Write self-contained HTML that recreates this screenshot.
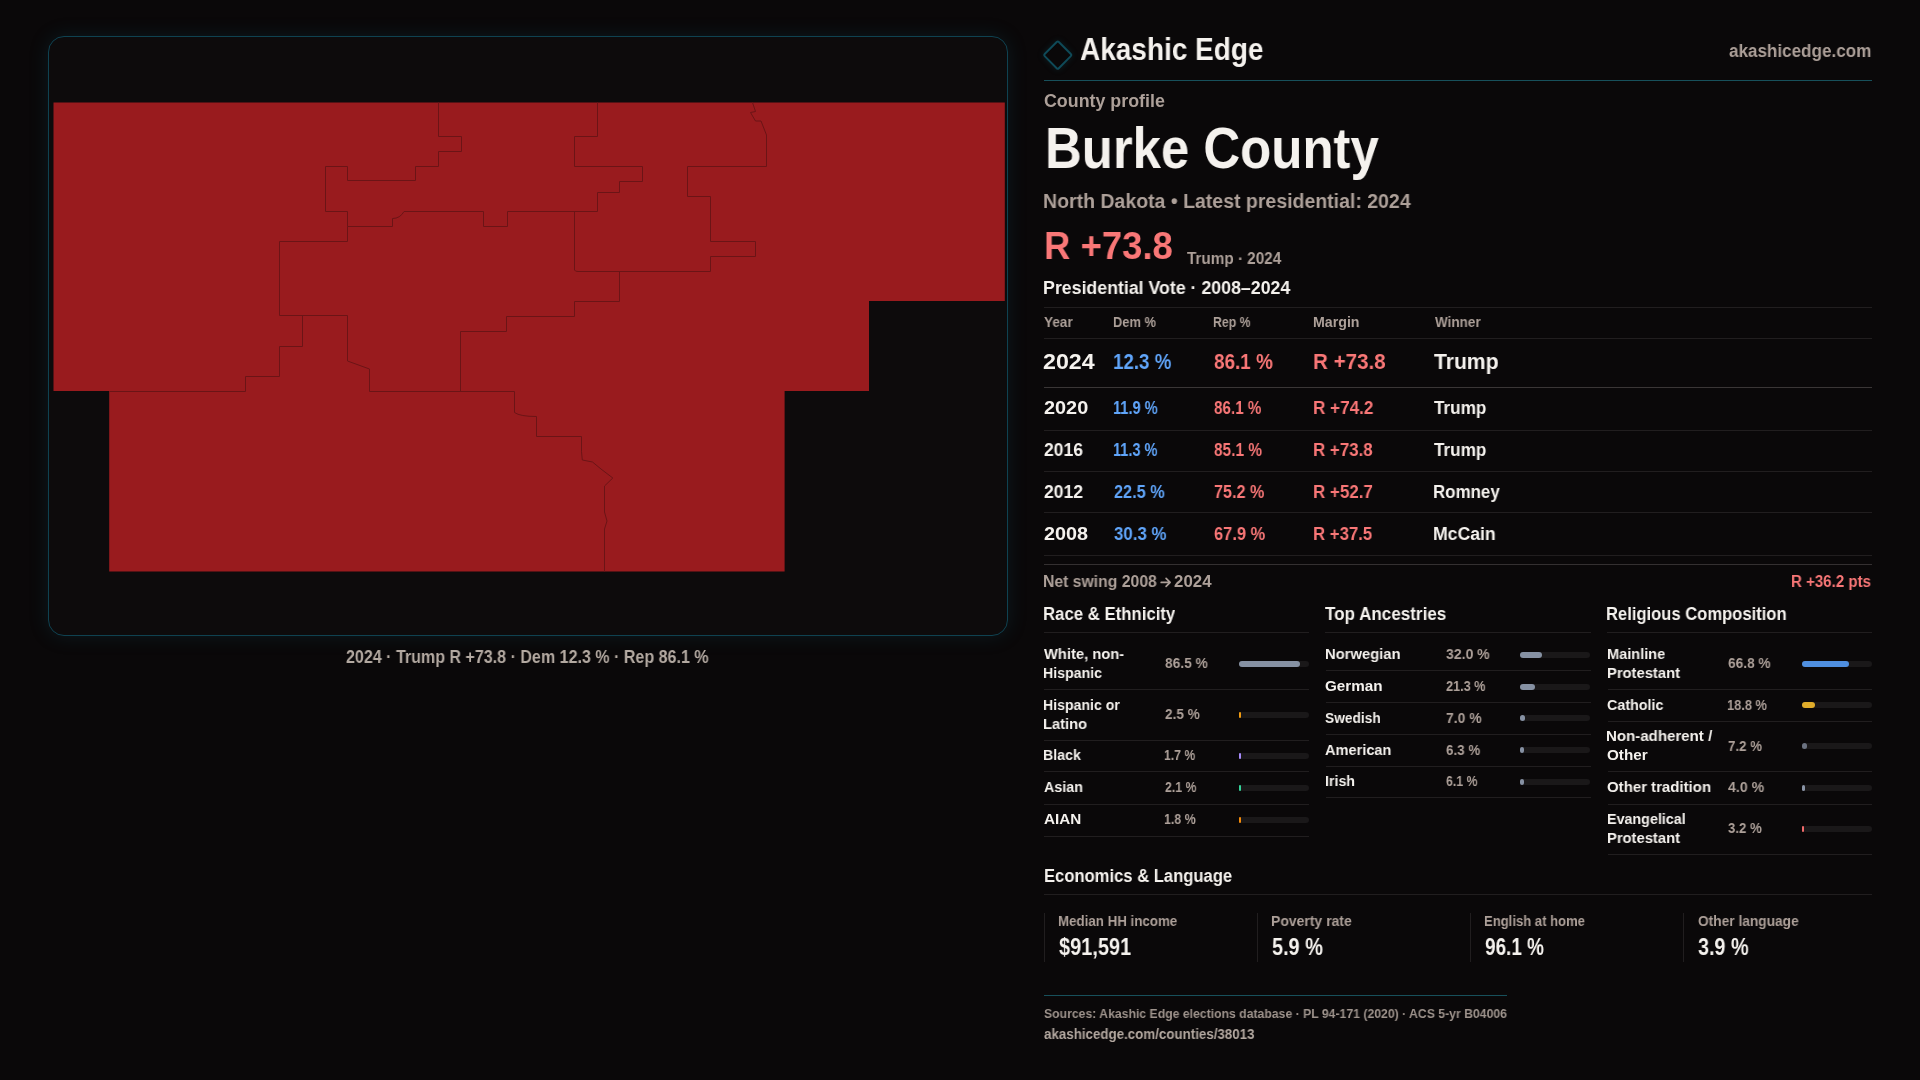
<!DOCTYPE html>
<html><head><meta charset="utf-8"><style>
html,body{margin:0;padding:0;}
body{width:1920px;height:1080px;overflow:hidden;background:#0a0809;position:relative;font-family:"Liberation Sans",sans-serif;font-weight:700;}
.t{position:absolute;white-space:nowrap;line-height:1;transform-origin:0 0;will-change:transform;}
.ln{position:absolute;}
.bar{position:absolute;background:#1a1819;border-radius:3px;}
.bar i{position:absolute;left:0;top:0;bottom:0;border-radius:3px;}
.panel{position:absolute;left:48px;top:36px;width:958px;height:598px;border:1px solid #0f4251;border-radius:16px;background:#0d0b0c;box-shadow:0 0 20px rgba(18,95,115,0.20);}
.map{position:absolute;left:0;top:0;}
.logo{position:absolute;left:1047.05px;top:44.45px;width:17.5px;height:17.5px;border:2px solid #0f4a58;border-radius:2.5px;transform:rotate(45deg);box-shadow:0 0 6px rgba(20,90,105,0.25);}
</style></head><body>
<div class="panel"></div>
<svg class="map" width="1920" height="1080" viewBox="0 0 1920 1080">
<path d="M53.5,102.5 H1004.8 V301 H869 V391 H784.6 V571.6 H109.2 V391 H53.5 Z" fill="#991b1e"/>
<g fill="none" stroke="#6b1416" stroke-width="1">
<path d="M438.5,102.5 V136.5 H461.5 V151.5 H438.5 V166.5 H415.5 V180.5 H347.5 V166.5 H325.5 V211.5 H347.5 V226.5 H392.5 V218.5 Q400,218.5 404,211.5 H483.5 V226.5 H507.5 V211.5 H597.5 V192.5 H619.5 V181.5 H642.5 V166.5 H574.5 V136.5 H597.5 V102.5"/>
<path d="M574.5,211.5 V270 Q575,271.5 578,271.5 H710.5 V256.5 H755.5 V241.5 H710.5 V196.5 H687.5 V166.5 H766.5 V135 L761,121 H755.5 L750.5,112.5 L755.5,111.5 L752.5,102.5"/>
<path d="M619.5,271.5 V301.5 H574.5 V316.5 H506.5 V331.5 H460.5 V391.5"/>
<path d="M347.5,226.5 V241.5 H279.5 V315.5 H347.5 V361 L369.5,369 V391.5 H514.5 V412.5 Q520,416.5 536.5,416.5 V436.5 H581.5 V451.7 L582.3,460 L592.5,462 L601,469 L612.8,478 L604.5,486 V512 L607,521 L604.5,529 V571.5"/>
<path d="M302.5,315.5 V346.5 H279.5 V376.5 H245.5 V391.5"/>
<path d="M109.5,391.5 H245.5"/>
</g></svg>
<div class="logo"></div>
<div class="t" style="left:1080.30px;top:35px;font-size:30.72px;color:#f5f2ee;transform:scaleX(0.9113);">Akashic Edge</div>
<div class="t" style="left:1728.69px;top:42px;font-size:18.26px;color:#ada099;transform:scaleX(0.9352);">akashicedge.com</div>
<div class="ln" style="left:1044px;top:80px;width:828px;height:1px;background:#17505b"></div>
<div class="t" style="left:1043.99px;top:93px;font-size:17.83px;color:#ada099;">County profile</div>
<div class="t" style="left:1044.56px;top:120px;font-size:57.54px;color:#f5f2ee;transform:scaleX(0.8848);">Burke County</div>
<div class="t" style="left:1043.28px;top:191px;font-size:20.29px;color:#ada099;transform:scaleX(0.9614);">North Dakota • Latest presidential: 2024</div>
<div class="t" style="left:1044.24px;top:226px;font-size:39.13px;color:#f97777;transform:scaleX(0.9329);">R +73.8</div>
<div class="t" style="left:1186.85px;top:251px;font-size:15.94px;color:#ada099;transform:scaleX(0.9584);">Trump · 2024</div>
<div class="t" style="left:1043.40px;top:280px;font-size:17.83px;color:#f5f2ee;transform:scaleX(0.9953);">Presidential Vote · 2008–2024</div>
<div class="ln" style="left:1044px;top:307px;width:828px;height:1px;background:#211e1f"></div>
<div class="t" style="left:1044.06px;top:315px;font-size:14.20px;color:#ada099;transform:scaleX(0.9568);">Year</div>
<div class="t" style="left:1113.43px;top:315px;font-size:14.20px;color:#ada099;transform:scaleX(0.9062);">Dem %</div>
<div class="t" style="left:1213.47px;top:315px;font-size:14.20px;color:#ada099;transform:scaleX(0.8651);">Rep %</div>
<div class="t" style="left:1313.34px;top:315px;font-size:14.20px;color:#ada099;">Margin</div>
<div class="t" style="left:1434.50px;top:315px;font-size:14.20px;color:#ada099;transform:scaleX(0.9520);">Winner</div>
<div class="ln" style="left:1044px;top:338px;width:828px;height:1px;background:#211e1f"></div>
<div class="t" style="left:1043.49px;top:350px;font-size:22.90px;color:#f5f2ee;transform:scaleX(1.0145);">2024</div>
<div class="t" style="left:1113.13px;top:350px;font-size:22.90px;color:#60a5fa;transform:scaleX(0.8186);">12.3 %</div>
<div class="t" style="left:1213.69px;top:350px;font-size:22.90px;color:#f97777;transform:scaleX(0.8248);">86.1 %</div>
<div class="t" style="left:1312.91px;top:350px;font-size:22.90px;color:#f97777;transform:scaleX(0.8995);">R +73.8</div>
<div class="t" style="left:1434.29px;top:350px;font-size:22.90px;color:#f5f2ee;transform:scaleX(0.9228);">Trump</div>
<div class="ln" style="left:1044px;top:387px;width:828px;height:1px;background:#3a3636"></div>
<div class="t" style="left:1043.60px;top:399px;font-size:18.12px;color:#f5f2ee;transform:scaleX(1.0976);">2020</div>
<div class="t" style="left:1113.39px;top:399px;font-size:18.12px;color:#60a5fa;transform:scaleX(0.8066);">11.9 %</div>
<div class="t" style="left:1213.81px;top:399px;font-size:18.12px;color:#f97777;transform:scaleX(0.8402);">86.1 %</div>
<div class="t" style="left:1313.14px;top:399px;font-size:18.12px;color:#f97777;transform:scaleX(0.9461);">R +74.2</div>
<div class="t" style="left:1434.33px;top:399px;font-size:18.12px;color:#f5f2ee;transform:scaleX(0.9460);">Trump</div>
<div class="ln" style="left:1044px;top:430px;width:828px;height:1px;background:#211e1f"></div>
<div class="t" style="left:1043.69px;top:441px;font-size:18.12px;color:#f5f2ee;transform:scaleX(0.9668);">2016</div>
<div class="t" style="left:1113.39px;top:441px;font-size:18.12px;color:#60a5fa;transform:scaleX(0.8029);">11.3 %</div>
<div class="t" style="left:1213.80px;top:441px;font-size:18.12px;color:#f97777;transform:scaleX(0.8510);">85.1 %</div>
<div class="t" style="left:1313.16px;top:441px;font-size:18.12px;color:#f97777;transform:scaleX(0.9343);">R +73.8</div>
<div class="t" style="left:1434.33px;top:441px;font-size:18.12px;color:#f5f2ee;transform:scaleX(0.9460);">Trump</div>
<div class="ln" style="left:1044px;top:471px;width:828px;height:1px;background:#211e1f"></div>
<div class="t" style="left:1043.69px;top:483px;font-size:18.12px;color:#f5f2ee;transform:scaleX(0.9679);">2012</div>
<div class="t" style="left:1113.73px;top:483px;font-size:18.12px;color:#60a5fa;transform:scaleX(0.8988);">22.5 %</div>
<div class="t" style="left:1213.61px;top:483px;font-size:18.12px;color:#f97777;transform:scaleX(0.8937);">75.2 %</div>
<div class="t" style="left:1313.15px;top:483px;font-size:18.12px;color:#f97777;transform:scaleX(0.9378);">R +52.7</div>
<div class="t" style="left:1433.36px;top:483px;font-size:18.12px;color:#f5f2ee;transform:scaleX(0.9337);">Romney</div>
<div class="ln" style="left:1044px;top:512px;width:828px;height:1px;background:#211e1f"></div>
<div class="t" style="left:1043.61px;top:525px;font-size:18.12px;color:#f5f2ee;transform:scaleX(1.0925);">2008</div>
<div class="t" style="left:1113.92px;top:525px;font-size:18.12px;color:#60a5fa;transform:scaleX(0.9311);">30.3 %</div>
<div class="t" style="left:1213.68px;top:525px;font-size:18.12px;color:#f97777;transform:scaleX(0.9085);">67.9 %</div>
<div class="t" style="left:1313.17px;top:525px;font-size:18.12px;color:#f97777;transform:scaleX(0.9272);">R +37.5</div>
<div class="t" style="left:1433.31px;top:525px;font-size:18.12px;color:#f5f2ee;transform:scaleX(0.9744);">McCain</div>
<div class="ln" style="left:1044px;top:555px;width:828px;height:1px;background:#211e1f"></div>
<div class="ln" style="left:1044px;top:564px;width:828px;height:1px;background:#343031"></div>
<div class="t" style="left:1043.34px;top:574px;font-size:15.94px;color:#ada099;transform:scaleX(0.9883);">Net swing 2008</div>
<svg style="position:absolute;left:1158px;top:575px" width="16" height="14" viewBox="0 0 16 14"><path d="M3.2,7.4 H12 M8.1,3.4 L12.1,7.4 L8.1,11.4" fill="none" stroke="#ada099" stroke-width="1.7" stroke-linecap="round" stroke-linejoin="round"/></svg>
<div class="t" style="left:1173.61px;top:574px;font-size:15.94px;color:#ada099;transform:scaleX(1.0577);">2024</div>
<div class="t" style="left:1791.38px;top:574px;font-size:15.94px;color:#f97777;transform:scaleX(0.9445);">R +36.2 pts</div>
<div class="t" style="left:1043.27px;top:605px;font-size:18.12px;color:#f5f2ee;transform:scaleX(0.9257);">Race &amp; Ethnicity</div>
<div class="t" style="left:1325.43px;top:605px;font-size:18.12px;color:#f5f2ee;transform:scaleX(0.9410);">Top Ancestries</div>
<div class="t" style="left:1606.38px;top:605px;font-size:18.12px;color:#f5f2ee;transform:scaleX(0.9157);">Religious Composition</div>
<div class="ln" style="left:1044px;top:632px;width:265px;height:1px;background:#211e1f"></div>
<div class="ln" style="left:1325px;top:632px;width:266px;height:1px;background:#211e1f"></div>
<div class="ln" style="left:1607px;top:632px;width:265px;height:1px;background:#211e1f"></div>
<div class="t" style="left:1044.40px;top:646px;font-size:15.22px;color:#f5f2ee;transform:scaleX(0.9670);">White, non-</div>
<div class="t" style="left:1043.45px;top:665px;font-size:15.22px;color:#f5f2ee;transform:scaleX(0.9294);">Hispanic</div>
<div class="t" style="left:1164.55px;top:655px;font-size:15.22px;color:#ada099;transform:scaleX(0.9034);">86.5 %</div>
<div class="bar" style="left:1239px;top:660.95px;width:70px;height:6px"><i style="width:60.55px;background:#8691a3"></i></div>
<div class="ln" style="left:1044.4px;top:689px;width:264.5999999999999px;height:1px;background:#211e1f"></div>
<div class="t" style="left:1043.45px;top:697px;font-size:15.22px;color:#f5f2ee;transform:scaleX(0.9260);">Hispanic or</div>
<div class="t" style="left:1043.41px;top:716px;font-size:15.22px;color:#f5f2ee;transform:scaleX(0.9670);">Latino</div>
<div class="t" style="left:1164.53px;top:706px;font-size:15.22px;color:#ada099;transform:scaleX(0.8889);">2.5 %</div>
<div class="bar" style="left:1239px;top:711.95px;width:70px;height:6px"><i style="width:2.20px;background:#ef9a12"></i></div>
<div class="ln" style="left:1044.4px;top:740px;width:264.5999999999999px;height:1px;background:#211e1f"></div>
<div class="t" style="left:1043.44px;top:747px;font-size:15.22px;color:#f5f2ee;transform:scaleX(0.9305);">Black</div>
<div class="t" style="left:1164.24px;top:747px;font-size:15.22px;color:#ada099;transform:scaleX(0.7990);">1.7 %</div>
<div class="bar" style="left:1239px;top:752.95px;width:70px;height:6px"><i style="width:2.20px;background:#a78bfa"></i></div>
<div class="ln" style="left:1044.4px;top:771px;width:264.5999999999999px;height:1px;background:#211e1f"></div>
<div class="t" style="left:1044.04px;top:779px;font-size:15.22px;color:#f5f2ee;transform:scaleX(0.9368);">Asian</div>
<div class="t" style="left:1164.57px;top:779px;font-size:15.22px;color:#ada099;transform:scaleX(0.8033);">2.1 %</div>
<div class="bar" style="left:1239px;top:784.80px;width:70px;height:6px"><i style="width:2.20px;background:#34d399"></i></div>
<div class="ln" style="left:1044.4px;top:804px;width:264.5999999999999px;height:1px;background:#211e1f"></div>
<div class="t" style="left:1044.02px;top:811px;font-size:15.22px;color:#f5f2ee;transform:scaleX(0.9944);">AIAN</div>
<div class="t" style="left:1164.23px;top:811px;font-size:15.22px;color:#ada099;transform:scaleX(0.8123);">1.8 %</div>
<div class="bar" style="left:1239px;top:816.85px;width:70px;height:6px"><i style="width:2.20px;background:#f58b0b"></i></div>
<div class="ln" style="left:1044.4px;top:836px;width:264.5999999999999px;height:1px;background:#211e1f"></div>
<div class="t" style="left:1324.60px;top:646px;font-size:15.22px;color:#f5f2ee;transform:scaleX(0.9714);">Norwegian</div>
<div class="t" style="left:1445.93px;top:646px;font-size:15.22px;color:#ada099;transform:scaleX(0.9219);">32.0 %</div>
<div class="bar" style="left:1520px;top:651.50px;width:70px;height:6px"><i style="width:22.40px;background:#8691a3"></i></div>
<div class="ln" style="left:1325.6px;top:670px;width:265.4000000000001px;height:1px;background:#211e1f"></div>
<div class="t" style="left:1324.99px;top:678px;font-size:15.22px;color:#f5f2ee;transform:scaleX(0.9944);">German</div>
<div class="t" style="left:1445.81px;top:678px;font-size:15.22px;color:#ada099;transform:scaleX(0.8342);">21.3 %</div>
<div class="bar" style="left:1520px;top:683.50px;width:70px;height:6px"><i style="width:14.91px;background:#8691a3"></i></div>
<div class="ln" style="left:1325.6px;top:702px;width:265.4000000000001px;height:1px;background:#211e1f"></div>
<div class="t" style="left:1325.19px;top:710px;font-size:15.22px;color:#f5f2ee;transform:scaleX(0.9016);">Swedish</div>
<div class="t" style="left:1445.66px;top:710px;font-size:15.22px;color:#ada099;transform:scaleX(0.9114);">7.0 %</div>
<div class="bar" style="left:1520px;top:715.45px;width:70px;height:6px"><i style="width:4.90px;background:#8691a3"></i></div>
<div class="ln" style="left:1325.6px;top:734px;width:265.4000000000001px;height:1px;background:#211e1f"></div>
<div class="t" style="left:1325.24px;top:742px;font-size:15.22px;color:#f5f2ee;transform:scaleX(0.9572);">American</div>
<div class="t" style="left:1445.75px;top:742px;font-size:15.22px;color:#ada099;transform:scaleX(0.8766);">6.3 %</div>
<div class="bar" style="left:1520px;top:747.40px;width:70px;height:6px"><i style="width:4.41px;background:#8691a3"></i></div>
<div class="ln" style="left:1325.6px;top:766px;width:265.4000000000001px;height:1px;background:#211e1f"></div>
<div class="t" style="left:1324.64px;top:773px;font-size:15.22px;color:#f5f2ee;transform:scaleX(0.9331);">Irish</div>
<div class="t" style="left:1445.79px;top:773px;font-size:15.22px;color:#ada099;transform:scaleX(0.8041);">6.1 %</div>
<div class="bar" style="left:1520px;top:778.85px;width:70px;height:6px"><i style="width:4.27px;background:#8691a3"></i></div>
<div class="ln" style="left:1325.6px;top:797px;width:265.4000000000001px;height:1px;background:#211e1f"></div>
<div class="t" style="left:1606.52px;top:646px;font-size:15.22px;color:#f5f2ee;transform:scaleX(0.9562);">Mainline</div>
<div class="t" style="left:1606.50px;top:665px;font-size:15.22px;color:#f5f2ee;transform:scaleX(0.9692);">Protestant</div>
<div class="t" style="left:1727.74px;top:655px;font-size:15.22px;color:#ada099;transform:scaleX(0.8995);">66.8 %</div>
<div class="bar" style="left:1802px;top:660.95px;width:70px;height:6px"><i style="width:46.76px;background:#4f8fe0"></i></div>
<div class="ln" style="left:1607.5px;top:689px;width:264.5px;height:1px;background:#211e1f"></div>
<div class="t" style="left:1606.93px;top:697px;font-size:15.22px;color:#f5f2ee;transform:scaleX(0.9406);">Catholic</div>
<div class="t" style="left:1727.45px;top:697px;font-size:15.22px;color:#ada099;transform:scaleX(0.8418);">18.8 %</div>
<div class="bar" style="left:1802px;top:702.30px;width:70px;height:6px"><i style="width:13.16px;background:#e0ac2a"></i></div>
<div class="ln" style="left:1607.5px;top:721px;width:264.5px;height:1px;background:#211e1f"></div>
<div class="t" style="left:1606.48px;top:728px;font-size:15.22px;color:#f5f2ee;transform:scaleX(0.9889);">Non-adherent /</div>
<div class="t" style="left:1606.90px;top:747px;font-size:15.22px;color:#f5f2ee;transform:scaleX(0.9936);">Other</div>
<div class="t" style="left:1727.69px;top:738px;font-size:15.22px;color:#ada099;transform:scaleX(0.8718);">7.2 %</div>
<div class="bar" style="left:1802px;top:743.20px;width:70px;height:6px"><i style="width:5.04px;background:#6b7280"></i></div>
<div class="ln" style="left:1607.5px;top:771px;width:264.5px;height:1px;background:#211e1f"></div>
<div class="t" style="left:1606.90px;top:779px;font-size:15.22px;color:#f5f2ee;transform:scaleX(0.9844);">Other tradition</div>
<div class="t" style="left:1728.04px;top:779px;font-size:15.22px;color:#ada099;transform:scaleX(0.9276);">4.0 %</div>
<div class="bar" style="left:1802px;top:784.60px;width:70px;height:6px"><i style="width:2.80px;background:#8a94a6"></i></div>
<div class="ln" style="left:1607.5px;top:804px;width:264.5px;height:1px;background:#211e1f"></div>
<div class="t" style="left:1606.53px;top:811px;font-size:15.22px;color:#f5f2ee;transform:scaleX(0.9401);">Evangelical</div>
<div class="t" style="left:1606.50px;top:830px;font-size:15.22px;color:#f5f2ee;transform:scaleX(0.9692);">Protestant</div>
<div class="t" style="left:1727.95px;top:820px;font-size:15.22px;color:#ada099;transform:scaleX(0.8648);">3.2 %</div>
<div class="bar" style="left:1802px;top:826.00px;width:70px;height:6px"><i style="width:2.24px;background:#f06a6a"></i></div>
<div class="ln" style="left:1607.5px;top:854px;width:264.5px;height:1px;background:#211e1f"></div>
<div class="t" style="left:1043.58px;top:867px;font-size:18.12px;color:#f5f2ee;transform:scaleX(0.9163);">Economics &amp; Language</div>
<div class="ln" style="left:1044px;top:894px;width:828px;height:1px;background:#211e1f"></div>
<div class="ln" style="left:1044px;top:913px;width:1px;height:49px;background:#211e1f"></div>
<div class="t" style="left:1058.40px;top:914px;font-size:14.49px;color:#ada099;transform:scaleX(0.9197);">Median HH income</div>
<div class="t" style="left:1059.35px;top:936px;font-size:23.19px;color:#f5f2ee;transform:scaleX(0.8607);">$91,591</div>
<div class="ln" style="left:1257px;top:913px;width:1px;height:49px;background:#211e1f"></div>
<div class="t" style="left:1271.36px;top:914px;font-size:14.49px;color:#ada099;transform:scaleX(0.9645);">Poverty rate</div>
<div class="t" style="left:1272.00px;top:936px;font-size:23.19px;color:#f5f2ee;transform:scaleX(0.8573);">5.9 %</div>
<div class="ln" style="left:1470px;top:913px;width:1px;height:49px;background:#211e1f"></div>
<div class="t" style="left:1484.42px;top:914px;font-size:14.49px;color:#ada099;transform:scaleX(0.9025);">English at home</div>
<div class="t" style="left:1484.94px;top:936px;font-size:23.19px;color:#f5f2ee;transform:scaleX(0.8166);">96.1 %</div>
<div class="ln" style="left:1683px;top:913px;width:1px;height:49px;background:#211e1f"></div>
<div class="t" style="left:1697.75px;top:914px;font-size:14.49px;color:#ada099;transform:scaleX(0.9476);">Other language</div>
<div class="t" style="left:1698.15px;top:936px;font-size:23.19px;color:#f5f2ee;transform:scaleX(0.8530);">3.9 %</div>
<div class="ln" style="left:1044px;top:995px;width:463px;height:1px;background:#17505b"></div>
<div class="t" style="left:1044.13px;top:1007px;font-size:13.19px;color:#9e938c;transform:scaleX(0.9270);">Sources: Akashic Edge elections database · PL 94-171 (2020) · ACS 5-yr B04006</div>
<div class="t" style="left:1044.10px;top:1028px;font-size:13.91px;color:#b3a8a0;transform:scaleX(0.9592);">akashicedge.com/counties/38013</div>
<div class="t" style="left:345.69px;top:648px;font-size:18.12px;color:#b3a9a1;transform:scaleX(0.8862);">2024 · Trump R +73.8 · Dem 12.3 % · Rep 86.1 %</div>
</body></html>
